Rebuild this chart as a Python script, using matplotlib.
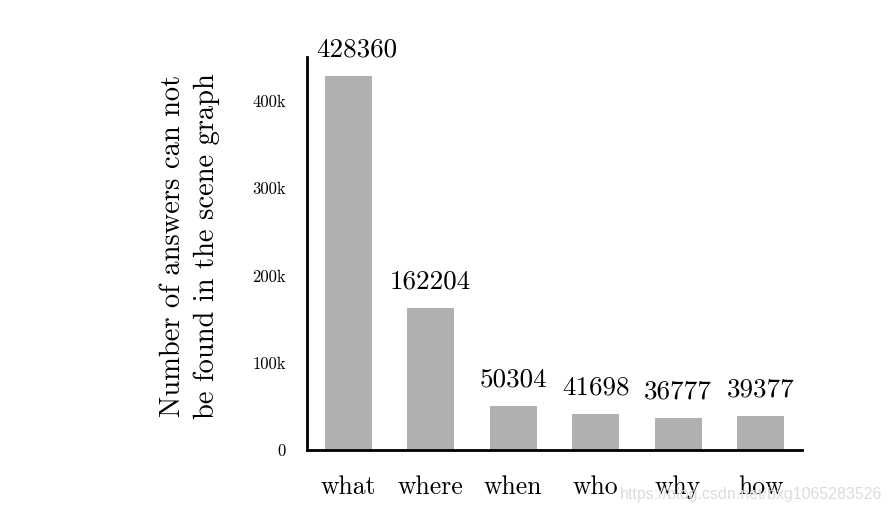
import matplotlib
matplotlib.use('Agg')
import matplotlib.pyplot as plt
from matplotlib.ticker import FuncFormatter

plt.rcParams['font.family'] = 'cmr10'
plt.rcParams['axes.formatter.use_mathtext'] = True

# data
categories = ['what', 'where', 'when', 'who', 'why', 'how']
counts = [428360, 162204, 50304, 41698, 36777, 39377]
ytick_vals = [0, 100000, 200000, 300000, 400000]

fig = plt.figure(figsize=(8.92, 5.14), dpi=100)
ax = fig.add_axes([0.344, 0.1245, 0.555, 0.7645])

x = range(len(categories))
bars = ax.bar(x, counts, width=0.57, color='#b0b0b0')

# 数値ラベル (先頭だけ軸線を避けて少し右へ)
for i, (xi, v) in enumerate(zip(x, counts)):
    dx = 6 if i == 0 else 0
    ax.annotate(f'{v}', (xi, v), xytext=(dx, 10.5), textcoords='offset points',
                ha='center', va='bottom', fontsize=19.5)

ax.set_xlim(-0.5, 5.5)
ax.set_ylim(0, 450000)
ax.set_xticks(list(x))
ax.set_xticklabels(categories, fontsize=18.5)
ax.set_yticks(ytick_vals)
ax.yaxis.set_major_formatter(FuncFormatter(lambda v, p: '0' if v == 0 else f'{int(v / 1000)}k'))
ax.tick_params(axis='y', length=0, labelsize=12, pad=15)
ax.tick_params(axis='x', length=0, pad=18)

for s in ['top', 'right']:
    ax.spines[s].set_visible(False)
for s in ['left', 'bottom']:
    ax.spines[s].set_linewidth(2)

ax.set_ylabel('Number of answers can not\nbe found in the scene graph', fontsize=20.5,
              linespacing=1.35)
ax.yaxis.set_label_coords(-0.176, 0.52)

# watermark
fig.text(0.989, 0.037, 'https://blog.csdn.net/bxg1065283526', ha='right', va='center',
         fontsize=11.5, color='#dcdcdc', family='Liberation Sans')

plt.savefig('out.png', dpi=100)
